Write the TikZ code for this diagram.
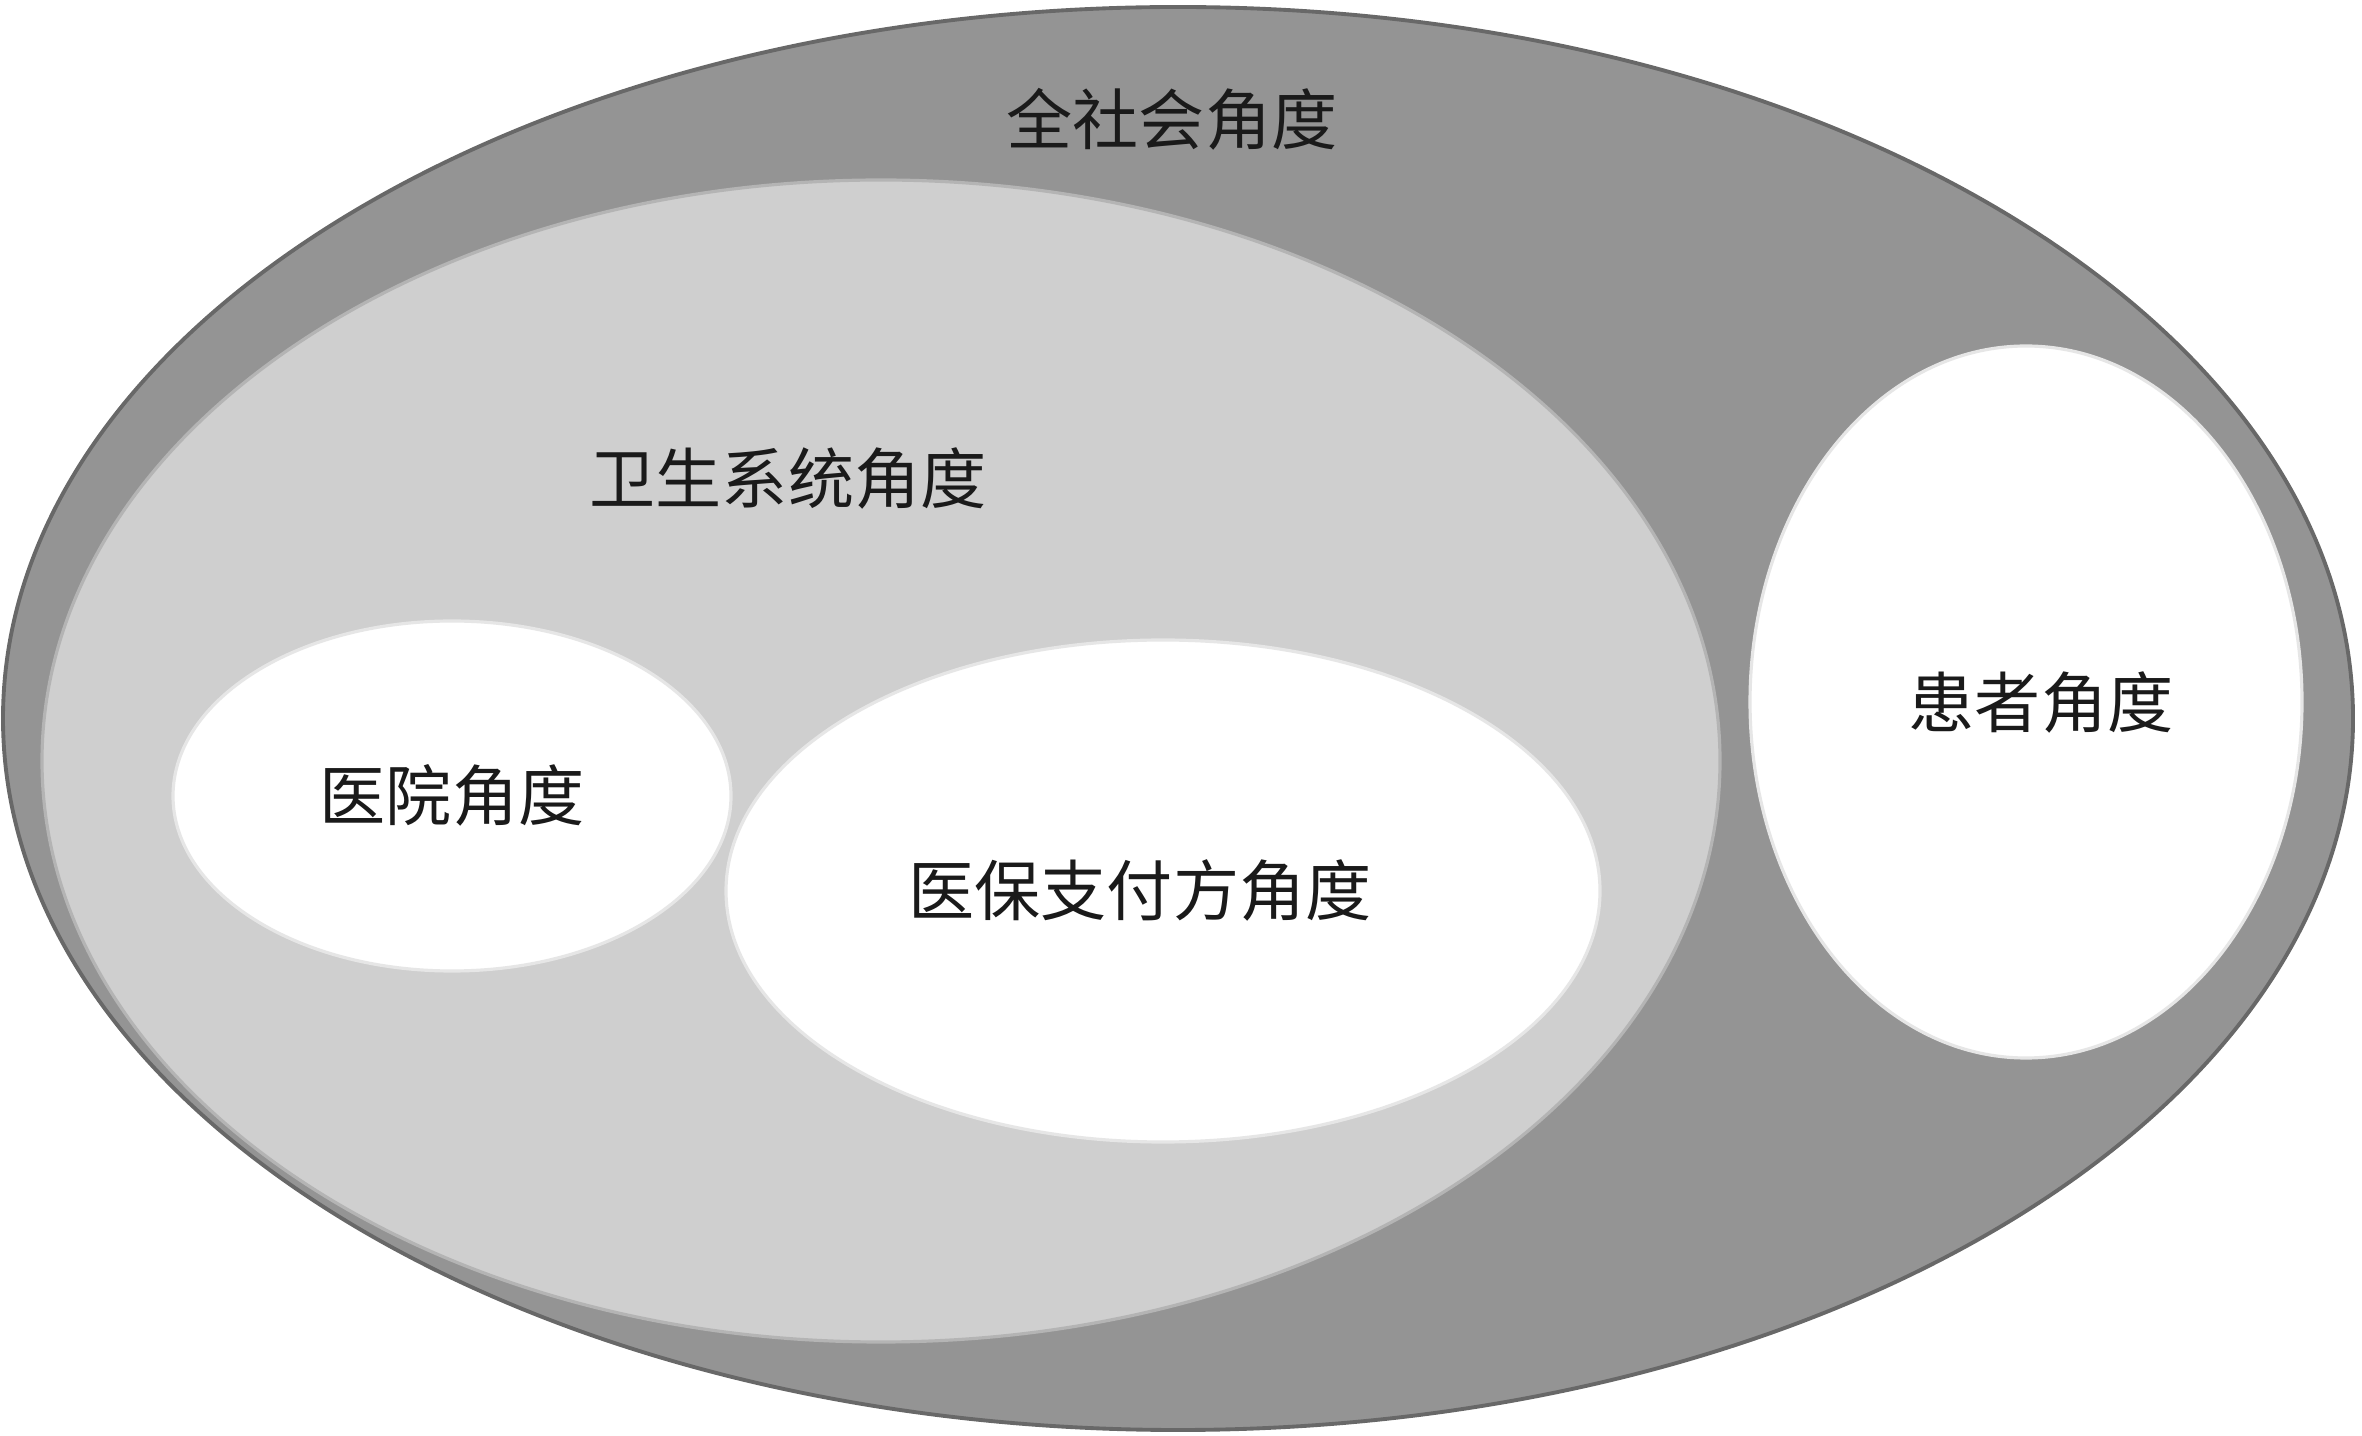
\documentclass[tikz,border=0pt]{standalone}
\usepackage{fontspec}
\usetikzlibrary{shapes.geometric, positioning}
\newfontfamily\cjk{Noto Sans CJK SC}
\definecolor{societyfill}{HTML}{949494}
\definecolor{societyline}{HTML}{686868}
\definecolor{systemfill}{HTML}{CFCFCF}
\definecolor{systemline}{HTML}{B4B4B4}
\definecolor{partline}{HTML}{E6E6E6}
\definecolor{labeltext}{HTML}{1A1A1A}
\newcommand{\viewarea}[5]{\node[area, minimum width=#3cm, minimum height=#4cm, #5] (#1) at (#2) {};}
\newcommand{\viewlabel}[3]{\node[viewtext] (#1) at (#2) {#3};}
\tikzset{
  area/.style={ellipse, inner sep=0pt, outer sep=0pt},
  viewtext/.style={font=\cjk\fontsize{18.8pt}{22pt}\selectfont, text=labeltext, inner sep=0pt}
}

\begin{document}
\begin{tikzpicture}
\useasboundingbox (0,0) rectangle (23.62,-14.36);

\viewarea{society}{11.78,-7.185}{23.50}{14.23}{fill=societyfill, draw=societyline, line width=1.1pt};
\viewarea{system}{8.81,-7.61}{16.78}{11.62}{fill=systemfill, draw=systemline, line width=0.9pt};
\viewarea{hospital}{4.52,-7.96}{5.58}{3.50}{fill=white, draw=partline, line width=0.9pt};
\viewarea{payer}{11.63,-8.91}{8.74}{5.02}{fill=white, draw=partline, line width=0.9pt};
\viewarea{patient}{20.26,-7.02}{5.52}{7.12}{fill=white, draw=partline, line width=0.9pt};

\viewlabel{societylbl}{11.72,-1.19}{全社会角度};
\viewlabel{systemlbl}{7.88,-4.79}{卫生系统角度};
\viewlabel{hospitallbl}{4.52,-7.95}{医院角度};
\viewlabel{payerlbl}{11.40,-8.90}{医保支付方角度};
\viewlabel{patientlbl}{20.41,-7.02}{患者角度};
\end{tikzpicture}
\end{document}
